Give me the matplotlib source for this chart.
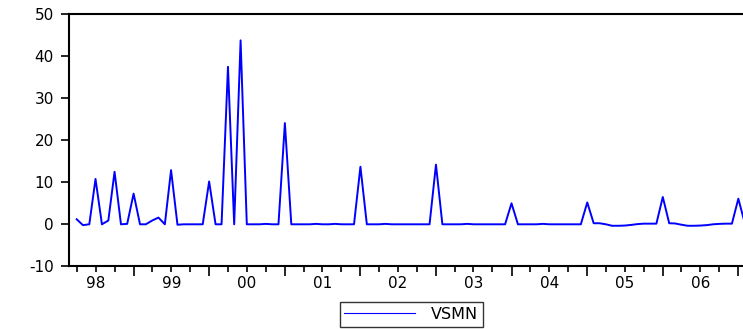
import matplotlib
matplotlib.use("Agg")
import matplotlib.pyplot as plt
import matplotlib.dates as mdates
from matplotlib.lines import Line2D
import pandas as pd
from datetime import datetime

# Monthly observations, April 1998 - February 2007
v1998 = [1.2, -0.2, 0.0, 10.8, 0.0, 0.9, 12.5, 0.0, 0.1]
v1999 = [7.3, 0.0, 0.0, 0.9, 1.6, 0.0, 12.9, -0.1, 0.0, 0.0, 0.0, 0.0]
v2000 = [10.2, 0.0, 0.0, 37.5, 0.0, 43.8, 0.0, 0.0, 0.0, 0.1, 0.0, 0.0]
v2001 = [24.1, 0.0, 0.0, 0.0, 0.0, 0.1, 0.0, 0.0, 0.1, 0.0, 0.0, 0.0]
v2002 = [13.7, 0.0, 0.0, 0.0, 0.1, 0.0, 0.0, 0.0, 0.0, 0.0, 0.0, 0.0]
v2003 = [14.2, 0.0, 0.0, 0.0, 0.0, 0.1, 0.0, 0.0, 0.0, 0.0, 0.0, 0.0]
v2004 = [5.0, 0.0, 0.0, 0.0, 0.0, 0.1, 0.0, 0.0, 0.0, 0.0, 0.0, 0.0]
v2005 = [5.2, 0.25, 0.25, 0.0, -0.35, -0.35, -0.3, -0.15, 0.05, 0.15, 0.15, 0.15]
v2006 = [6.5, 0.25, 0.2, -0.1, -0.35, -0.35, -0.3, -0.2, 0.0, 0.1, 0.15, 0.15]
v2007 = [6.1, 0.3]
vsmn = v1998 + v1999 + v2000 + v2001 + v2002 + v2003 + v2004 + v2005 + v2006 + v2007
dates = pd.date_range("1998-04-01", periods=len(vsmn), freq="MS")

year_labels = ["98", "99", "00", "01", "02", "03", "04", "05", "06"]
yticks = [-10, 0, 10, 20, 30, 40, 50]

fig = plt.figure(figsize=(7.43, 3.29), dpi=100)
ax = fig.add_axes([0.0929, 0.1906, 0.9206, 0.7659])

ax.plot(dates, vsmn, color="#0000FF", lw=1.4)

ax.set_xlim(datetime(1998, 2, 23), datetime(2007, 3, 13))
ax.set_ylim(-10, 50)
ax.set_yticks(yticks)
ax.set_yticklabels([str(t) for t in yticks], fontsize=11, family="DejaVu Sans")

# year boundaries get long ticks, quarters short ones, labels sit mid-year
ax.xaxis.set_major_locator(mdates.YearLocator())
ax.xaxis.set_minor_locator(mdates.MonthLocator(bymonth=[1, 4, 7, 10]))
ax.xaxis.set_major_formatter(plt.NullFormatter())
ax.tick_params(axis="x", which="major", length=7, width=1.2, direction="out")
ax.tick_params(axis="x", which="minor", length=4, width=1.2, direction="out")
ax.tick_params(axis="y", length=6, width=1.2, direction="out", pad=5)

for i, lab in enumerate(year_labels):
    ax.text(datetime(1998 + i, 7, 2), -0.037, lab, transform=ax.get_xaxis_transform(),
            ha="center", va="top", fontsize=11, family="DejaVu Sans")

for side in ["left", "top", "bottom"]:
    ax.spines[side].set_linewidth(1.5)
ax.spines["right"].set_visible(False)

handle = Line2D([], [], color="#0000FF", lw=0.8)
leg = ax.legend([handle], ["VSMN"], loc="upper center", bbox_to_anchor=(0.5, -0.142),
                borderaxespad=0, frameon=True, fancybox=False, handlelength=4.4,
                handletextpad=1.0, borderpad=0.3,
                prop={"family": "DejaVu Sans", "size": 11.5})
leg.get_frame().set_edgecolor("black")
leg.get_frame().set_linewidth(1.0)

fig.savefig("out.png", dpi=100)
